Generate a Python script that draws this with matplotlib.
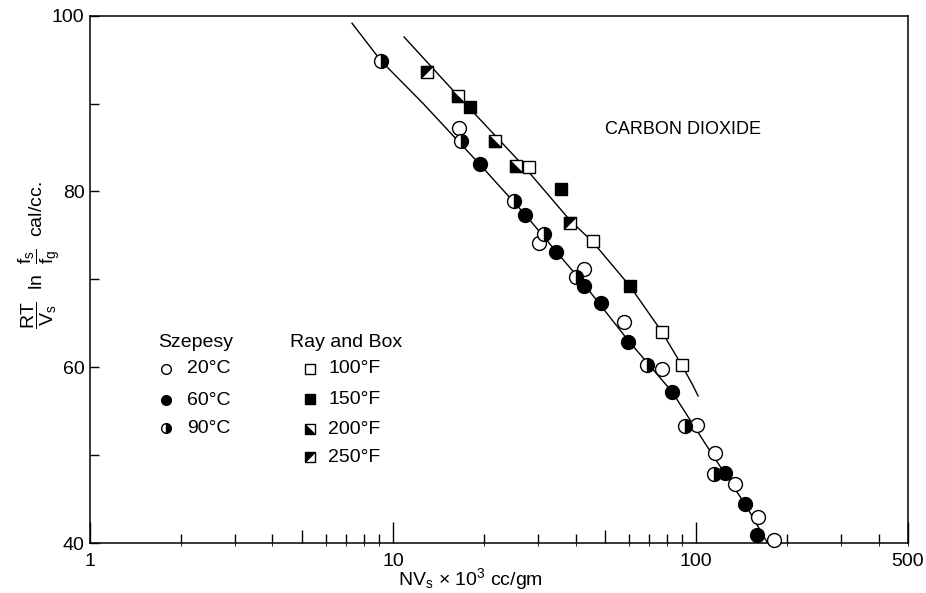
import numpy as np
import matplotlib
matplotlib.use('Agg')
import matplotlib.pyplot as plt
from matplotlib.path import Path
from matplotlib.ticker import FixedLocator, NullFormatter

plt.rcParams['font.family'] = ['Liberation Sans', 'DejaVu Sans']
plt.rcParams['mathtext.fontset'] = 'custom'
plt.rcParams['mathtext.rm'] = 'Liberation Sans'
plt.rcParams['mathtext.it'] = 'Liberation Sans:italic'

# Szepesy data
sz20_x = [16.5, 30.2, 42.8, 58.0, 76.9, 101, 115.3, 134.4, 160.4, 180.3]
sz20_y = [87.2, 74.1, 71.2, 65.2, 59.8, 53.4, 50.2, 46.7, 43.0, 40.35]
sz60_x = [19.3, 27.3, 34.5, 42.6, 48.7, 59.7, 83.5, 124.5, 145, 158.4]
sz60_y = [83.1, 77.3, 73.1, 69.25, 67.3, 62.9, 57.2, 48.0, 44.4, 40.9]
sz90_x = [9.15, 16.8, 25.0, 31.4, 40.0, 69.0, 92.0, 114.7]
sz90_y = [94.8, 85.7, 78.9, 75.2, 70.3, 60.2, 53.3, 47.9]

# Ray and Box data
rb100_x = [28.0, 45.6, 76.9, 90.1]
rb100_y = [82.8, 74.4, 64.05, 60.2]
rb150_x = [17.9, 35.8, 60.4]
rb150_y = [89.6, 80.3, 69.3]
rb200_x = [16.4, 21.7, 25.5]
rb200_y = [90.86, 85.75, 82.9]
rb250_x = [12.9, 38.3]
rb250_y = [93.6, 76.45]

# fitted curves
szcurve_x = [7.32, 9.13, 12.57, 19.27, 27.35, 34.4, 42.6, 59.5, 83.3, 106.3, 123.8, 146.4, 172]
szcurve_y = [99.14, 94.85, 90.0, 83.13, 77.33, 73.23, 69.48, 63.1, 57.2, 51.5, 48.0, 44.2, 40.0]
rbcurve_x = [10.87, 16.4, 26.95, 38.26, 45.6, 60.4, 77.2, 89.9, 97.0, 101.5]
rbcurve_y = [97.58, 90.86, 82.9, 76.76, 74.25, 69.25, 64.0, 60.15, 58.1, 56.73]

sz_labels = ['20°C', '60°C', '90°C']
rb_labels = ['100°F', '150°F', '200°F', '250°F']

tri_ll = Path([(-1, -1), (-1, 1), (1, -1), (-1, -1)])  # lower-left black
tri_ul = Path([(-1, 1), (1, 1), (-1, -1), (-1, 1)])    # upper-left black

FS = 14

def circle(ax, x, y, kind, ms, **kw):
	if kind == 0:
		ax.plot(x, y, 'o', ms=ms, mfc='white', mec='black', mew=1.0, ls='none', **kw)
	elif kind == 1:
		ax.plot(x, y, 'o', ms=ms, mfc='black', mec='black', mew=1.0, ls='none', **kw)
	else:
		ax.plot(x, y, 'o', ms=ms, fillstyle='right', mfc='black', mfcalt='white',
			mec='black', mew=1.0, ls='none', **kw)

def square(ax, x, y, kind, ms, **kw):
	if kind == 1:
		ax.plot(x, y, 's', ms=ms, mfc='black', mec='black', mew=1.0, ls='none', **kw)
		return
	ax.plot(x, y, 's', ms=ms, mfc='white', mec='black', mew=1.0, ls='none', **kw)
	if kind == 2:
		ax.plot(x, y, marker=tri_ll, ms=ms, mfc='black', mec='black', mew=0.5, ls='none', **kw)
	elif kind == 3:
		ax.plot(x, y, marker=tri_ul, ms=ms, mfc='black', mec='black', mew=0.5, ls='none', **kw)

def main():
	fig = plt.figure(figsize=(9.26, 5.93), dpi=100)
	ax = fig.add_axes([90 / 926, 1 - 543 / 593, 818 / 926, 527.3 / 593])
	ax.set_xscale('log')
	ax.set_xlim(1, 500)
	ax.set_ylim(40, 100)

	ax.plot(szcurve_x, szcurve_y, color='black', lw=1.0, zorder=2)
	ax.plot(rbcurve_x, rbcurve_y, color='black', lw=1.0, zorder=2)

	circle(ax, sz20_x, sz20_y, 0, 10, zorder=3, clip_on=False)
	circle(ax, sz60_x, sz60_y, 1, 10, zorder=3, clip_on=False)
	circle(ax, sz90_x, sz90_y, 2, 10, zorder=3, clip_on=False)
	square(ax, rb100_x, rb100_y, 0, 9, zorder=3)
	square(ax, rb150_x, rb150_y, 1, 9, zorder=3)
	square(ax, rb200_x, rb200_y, 2, 9, zorder=3)
	square(ax, rb250_x, rb250_y, 3, 9, zorder=3)

	# axes styling
	for s in ax.spines.values():
		s.set_linewidth(1.1)
	ax.xaxis.set_major_locator(FixedLocator([1, 10, 100, 500]))
	ax.set_xticklabels(['1', '10', '100', '500'])
	minors = [2, 3, 4, 6, 7, 8, 9, 20, 30, 40, 60, 70, 80, 90, 200, 300, 400]
	ax.xaxis.set_minor_locator(FixedLocator(minors))
	ax.xaxis.set_minor_formatter(NullFormatter())
	ax.tick_params(axis='x', which='major', direction='in', length=15, width=1.0,
		labelsize=FS, pad=7, top=False)
	ax.tick_params(axis='x', which='minor', direction='in', length=6.7, width=1.0, top=False)
	sec = ax.secondary_xaxis('bottom')
	sec.set_xticks([5, 50])
	sec.set_xticklabels(['', ''])
	sec.tick_params(direction='in', length=9.6, width=1.0)
	sec.spines['bottom'].set_visible(False)

	ax.yaxis.set_major_locator(FixedLocator([40, 60, 80, 100]))
	ax.yaxis.set_minor_locator(FixedLocator([50, 70, 90]))
	ax.tick_params(axis='y', which='both', direction='in', length=6.5, width=1.0,
		labelsize=FS, pad=4, right=False)

	ax.set_xlabel('NV$_\\mathrm{s}$ × 10$^\\mathrm{3}$ cc/gm', fontsize=FS)
	ax.xaxis.set_label_coords(0.465, -0.043)
	ax.set_ylabel(r'$\dfrac{\mathrm{RT}}{\mathrm{V_s}}\ \ \mathrm{ln}\ \ \dfrac{\mathrm{f_s}}{\mathrm{f_g}}\ \ \mathrm{cal/cc.}$',
		fontsize=FS)
	ax.yaxis.set_label_coords(-0.034, 0.545)

	ax.text(0.6296, 0.785, 'CARBON DIOXIDE', transform=ax.transAxes, fontsize=13,
		ha='left', va='center')

	# legend (drawn by hand)
	ax.text(0.0831, 0.381, 'Szepesy', transform=ax.transAxes, fontsize=FS, va='center')
	sz_rows = [0.330, 0.271, 0.218]
	for i, (lab, ry) in enumerate(zip(sz_labels, sz_rows)):
		circle(ax, [0.0929], [ry], i, 7, transform=ax.transAxes, zorder=3)
		ax.text(0.1186, ry, lab, transform=ax.transAxes, fontsize=FS, va='center')
	ax.text(0.2445, 0.381, 'Ray and Box', transform=ax.transAxes, fontsize=FS, va='center')
	rb_rows = [0.330, 0.273, 0.216, 0.163]
	for i, (lab, ry) in enumerate(zip(rb_labels, rb_rows)):
		square(ax, [0.269], [ry], i, 7, transform=ax.transAxes, zorder=3)
		ax.text(0.291, ry, lab, transform=ax.transAxes, fontsize=FS, va='center')

	fig.savefig('out.png', dpi=100)

if __name__ == '__main__':
	main()
